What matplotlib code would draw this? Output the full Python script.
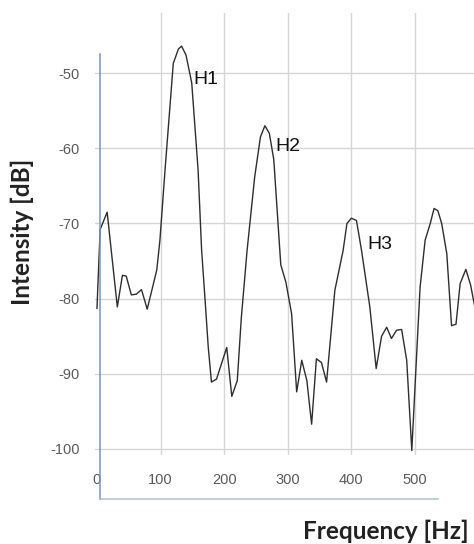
import numpy as np
import matplotlib.pyplot as plt
from matplotlib.lines import Line2D

plt.rcParams["axes.unicode_minus"] = False

# spectrum samples: frequency [Hz] and intensity [dB]
freq = [0, 5, 16, 32, 40, 46, 54, 62, 70, 79, 94, 99, 107, 120, 128, 133,
        140, 149, 159, 164.5, 170, 175, 180, 188, 204, 212, 220.6, 227, 236,
        248, 257, 264, 271, 278, 289, 297, 306, 314, 322, 330, 337.5, 345,
        353, 361, 374, 387, 393, 400, 408, 416, 429, 439, 447.5, 455.5, 463,
        471, 479, 487, 495, 500, 508, 516, 524, 530, 536, 542, 550, 557.5,
        564.5, 571, 580, 587.5, 595]
level = [-81.3, -70.8, -68.5, -81.1, -76.9, -77.0, -79.5, -79.4, -78.8,
         -81.4, -76.2, -72.2, -62.9, -48.7, -46.8, -46.4, -47.6, -51.3,
         -62.9, -73.5, -80.2, -86.5, -91.1, -90.7, -86.5, -93.0, -90.9,
         -82.5, -73.6, -63.8, -58.5, -57.0, -58.0, -61.5, -75.5, -77.8,
         -82.0, -92.4, -88.2, -90.9, -96.7, -88.0, -88.5, -91.1, -78.9,
         -73.6, -70.0, -69.3, -69.6, -73.6, -81.1, -89.3, -85.0, -83.8,
         -85.3, -84.2, -84.1, -88.2, -100.2, -91.8, -78.5, -72.2, -70.0,
         -68.0, -68.3, -70.0, -74.0, -83.6, -83.4, -78.0, -76.1, -78.2, -81.5]

harmonics = ["H1", "H2", "H3"]
harm_pos = [(151, -50.9), (280, -59.7), (424.5, -72.8)]

xticks = [0, 100, 200, 300, 400, 500]
yticks = [-50, -60, -70, -80, -90, -100]

W, H = 474, 544
fig = plt.figure(figsize=(W / 100, H / 100), dpi=100)
ax = fig.add_axes([95 / W, (H - 455) / H, 1 - 95 / W, 442 / H])

ax.plot(freq, level, color="#2e2e2e", lw=1.0)
ax.set_xlim(-3.1, 592.8)
ax.set_ylim(-100.8, -42.0)

ax.set_xticks(xticks)
ax.set_yticks(yticks)
ax.tick_params(length=0, labelsize=10.5, labelcolor="#5a5a5a")
ax.tick_params(axis="x", pad=13)
ax.tick_params(axis="y", pad=11)
for lab in ax.get_xticklabels() + ax.get_yticklabels():
    lab.set_family("Liberation Sans")

ax.grid(True, color="#d6d6d6", lw=1.0)
ax.get_xgridlines()[0].set_visible(False)
for s in ax.spines.values():
    s.set_visible(False)

# axis lines drawn outside the grid area
ax.add_line(Line2D([4.7, 4.7], [-106.6, -47.4], color="#7f93b0", lw=1.1,
                   clip_on=False))
ax.add_line(Line2D([4.7, 536], [-106.6, -106.6], color="#a9c3cf", lw=1.1,
                   clip_on=False))

for name, (x, y) in zip(harmonics, harm_pos):
    ax.text(x, y, name, fontsize=14, family="Liberation Sans",
            va="center", ha="left", color="#111111")

fig.text(22 / W, 1 - 232 / H, "Intensity [dB]", rotation=90, ha="center",
         va="center", fontsize=17.5, fontweight="bold", family="Lato",
         color="#222222")
fig.text(386 / W, 1 - 531 / H, "Frequency [Hz]", ha="center", va="center",
         fontsize=17.5, fontweight="bold", family="Lato", color="#222222")

fig.savefig("out.png", dpi=100)
